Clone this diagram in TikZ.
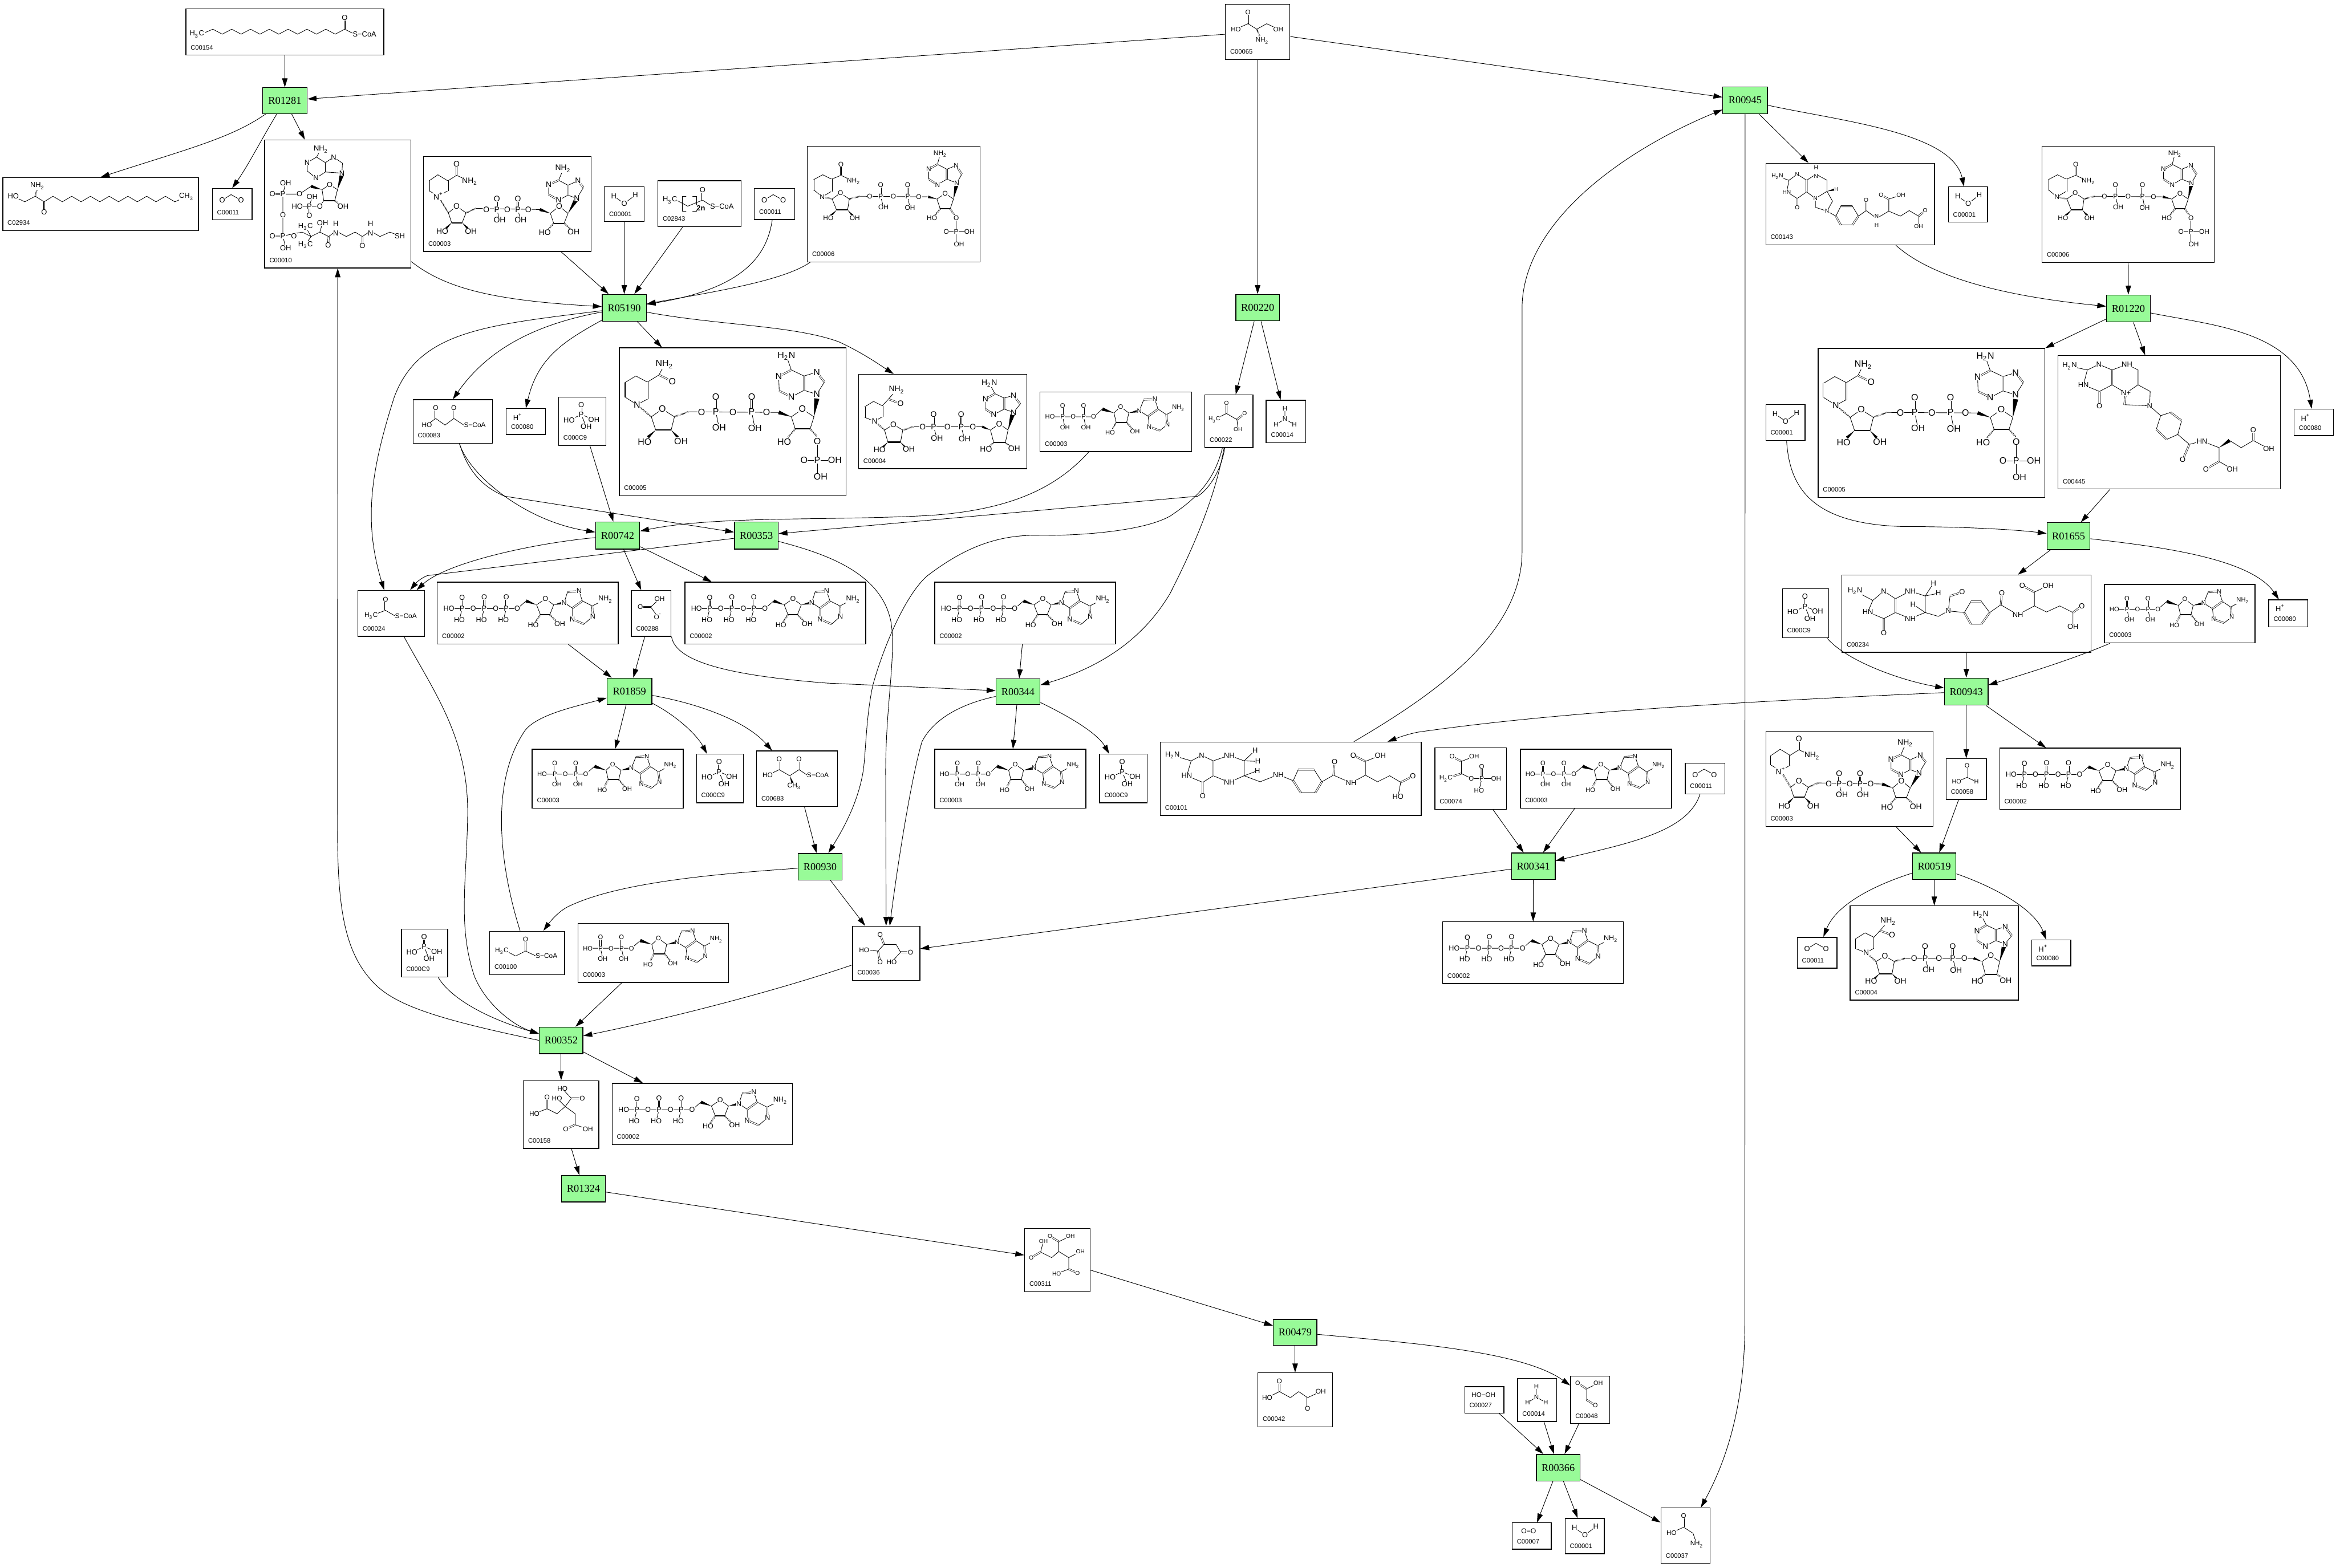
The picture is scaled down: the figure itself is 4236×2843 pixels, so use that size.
\documentclass[tikz,border=0pt]{standalone}
\usepackage{fontspec}
\setmainfont{Liberation Sans}
\newfontfamily\atomf{Liberation Sans}
\newfontfamily\serf{Liberation Serif}
\usetikzlibrary{arrows.meta,calc}
\definecolor{rxgreen}{HTML}{98FB98}
\newcounter{atc}
\def\msz{4}
\tikzset{
 cbox/.style={draw=black,fill=white,line width=.4pt,inner sep=0pt,rectangle},
 rbox/.style={draw=black,fill=rxgreen,line width=.4pt,inner sep=0pt,rectangle,font=\serf\fontsize{5.4}{6}\selectfont},
 lab/.style={inner sep=0pt,font=\atomf\fontsize{3.3}{4}\selectfont},
 atom/.style={fill=white,inner sep=.12pt,font=\atomf\fontsize{\msz}{\msz}\selectfont},
 bd/.style={line width=.25pt,line cap=round,line join=round},
 dbd/.style={line width=.2pt,double,double distance=.5pt},
 edg/.style={draw=black,line width=.27pt,-{Triangle[length=4.6pt,width=2.8pt]}},
}
\newcommand{\cmp}[6]{\node[cbox,minimum width={(#4-#2)*0.01cm},minimum height={(#5-#3)*0.01cm}] (#1) at ({(#2+#4)/2},{(#3+#5)/2}) {};
 \node[lab,anchor=west] (#1lab) at (#2+8,#5-14) {#6};}
\newcommand{\rxn}[6]{\node[rbox,minimum width={(#5-#3)*0.01cm},minimum height={(#6-#4)*0.01cm}] (#1) at ({(#3+#5)/2},{(#4+#6)/2}) {#2};}
\newcommand{\mol}[4]{\begin{scope}[shift={(#1,#2)}]\def\msz{#3}#4\end{scope}}
\newcommand{\atm}[3]{\stepcounter{atc}\node[atom] (at\theatc) at (#1,#2) {#3};}
\newcommand{\Bn}{\draw[bd]}
\newcommand{\Db}{\draw[dbd]}
\newcommand{\wdg}[4]{\fill (#1,#2) -- ({#3+(#4-#2)*0.14},{#4-(#3-#1)*0.14}) -- ({#3-(#4-#2)*0.14},{#4+(#3-#1)*0.14}) -- cycle;}
\newcommand{\hsh}[4]{\draw[line width=.75pt,dash pattern=on .22pt off .38pt] (#1,#2) -- (#3,#4);}
\newcommand{\sub}[1]{\textsubscript{#1}}
% ---------- molecules
\newcommand{\molATP}{
 \Bn (21,48)--(145,48)--(161,34);
 \Bn (45,48)--(40,68) (85,48)--(80,68) (125,48)--(120,68);
 \Db (45,48)--(45,28) (85,48)--(85,27) (125,48)--(125,27);
 \wdg{180}{41}{161}{34}
 \Bn (180,41)--(196,30)--(211,41)--(204,59)--(187,59)--cycle;
 \draw[line width=.6pt] (187,59)--(204,59);
 \hsh{187}{59}{178}{72}\hsh{204}{59}{216}{71}\wdg{211}{41}{230}{37}
 \Bn (230,37)--(236,18) (257,16)--(263,34) (245,47)--(230,37) (263,34)--(281,43) (282,62)--(266,76) (245,67)--(245,47) (281,43)--(305,31);
 \Db (236,18)--(257,16) (263,34)--(245,47) (281,43)--(282,62) (266,76)--(245,67);
 \atm{21}{48}{HO}\atm{45}{48}{P}\atm{45}{28}{O}\atm{40}{68}{HO}\atm{65}{48}{O}\atm{85}{48}{P}\atm{85}{27}{O}\atm{80}{68}{HO}
 \atm{106}{48}{O}\atm{125}{48}{P}\atm{125}{27}{O}\atm{120}{68}{HO}\atm{145}{48}{O}\atm{196}{30}{O}\atm{174}{78}{HO}\atm{222}{76}{OH}
 \atm{230}{37}{N}\atm{257}{16}{N}\atm{245}{67}{N}\atm{282}{62}{N}\atm{305}{31}{NH\sub{2}}}
\newcommand{\molADP}{
 \Bn (18,45)--(97,45)--(113,31);
 \Bn (41,45)--(45,64) (79,45)--(83,64);
 \Db (41,45)--(41,25) (79,45)--(79,25);
 \wdg{134}{38}{113}{31}
 \Bn (134,38)--(146,27)--(161,38)--(157,55)--(138,55)--cycle;
 \draw[line width=.6pt] (138,55)--(157,55);
 \hsh{138}{55}{131}{68}\hsh{157}{55}{167}{67}\wdg{161}{38}{180}{34}
 \Bn (180,34)--(188,14) (208,13)--(214,31) (196,44)--(180,34) (214,31)--(229,41) (231,59)--(217,70) (198,63)--(196,44) (229,41)--(251,29);
 \Db (188,14)--(208,13) (214,31)--(196,44) (229,41)--(231,59) (217,70)--(198,63);
 \atm{18}{45}{HO}\atm{41}{45}{P}\atm{41}{25}{O}\atm{45}{64}{OH}\atm{60}{45}{O}\atm{79}{45}{P}\atm{79}{25}{O}\atm{83}{64}{OH}\atm{97}{45}{O}
 \atm{146}{27}{O}\atm{127}{74}{HO}\atm{172}{72}{OH}\atm{180}{34}{N}\atm{208}{13}{N}\atm{198}{63}{N}\atm{231}{59}{N}\atm{251}{29}{NH\sub{2}}}
\newcommand{\molNAD}{
 \Db (60,14)--(60,34); \Bn (84,45)--(60,34)--(44,44);
 \Bn (44,44)--(26,33)--(10,44)--(10,62)--(27,72)--(44,62)--cycle;
 \Db (44,44)--(44,62) (10,44)--(10,62);
 \hsh{27}{72}{45}{102}
 \Bn (45,102)--(60,90)--(77,102)--(70,120)--(51,120)--cycle;
 \draw[line width=.6pt] (51,120)--(70,120);
 \wdg{51}{120}{41}{130}\wdg{70}{120}{80}{130}\hsh{77}{102}{95}{94}
 \Bn (95,94)--(211,96);
 \Bn (133,96)--(138,115) (171,96)--(176,115);
 \Db (133,96)--(133,77) (171,96)--(171,77);
 \wdg{230}{103}{211}{96}
 \Bn (230,103)--(246,90)--(262,103)--(255,121)--(236,121)--cycle;
 \draw[line width=.6pt] (236,121)--(255,121);
 \hsh{236}{121}{226}{132}\hsh{255}{121}{266}{131}\wdg{262}{103}{278}{76}
 \Bn (278,76)--(290,56) (280,44)--(262,52) (262,70)--(278,76) (262,52)--(245,43) (227,51)--(227,69) (245,79)--(262,70) (245,43)--(253,24);
 \Db (290,56)--(280,44) (262,52)--(262,70) (245,43)--(227,51) (227,69)--(245,79);
 \atm{60}{14}{O}\atm{84}{45}{NH\sub{2}}\atm{27}{72}{N\textsuperscript{+}}\atm{60}{90}{O}\atm{34}{136}{HO}\atm{86}{136}{OH}
 \atm{114}{96}{O}\atm{133}{96}{P}\atm{133}{77}{O}\atm{138}{115}{OH}\atm{152}{96}{O}\atm{171}{96}{P}\atm{171}{77}{O}\atm{176}{115}{OH}\atm{190}{96}{O}
 \atm{246}{90}{O}\atm{220}{138}{HO}\atm{272}{137}{OH}\atm{278}{76}{N}\atm{280}{44}{N}\atm{245}{79}{N}\atm{227}{51}{N}\atm{253}{22}{NH\sub{2}}}
\newcommand{\molNADP}{
 \Db (61,33)--(61,53); \Bn (84,64)--(61,53)--(44,60);
 \Bn (44,60)--(28,52)--(11,61)--(11,79)--(27,92)--(44,82)--cycle;
 \Db (44,60)--(44,82) (11,61)--(11,79);
 \hsh{27}{92}{45}{96}
 \Bn (45,96)--(60,85)--(76,96)--(73,116)--(53,116)--cycle;
 \draw[line width=.6pt] (53,116)--(73,116);
 \wdg{53}{116}{43}{126}\wdg{73}{116}{82}{126}\hsh{76}{96}{95}{91}
 \Bn (95,91)--(219,92);
 \Bn (133,91)--(138,111) (182,91)--(186,112);
 \Db (133,91)--(133,70) (182,91)--(182,70);
 \wdg{235}{96}{219}{92}
 \Bn (235,96)--(250,86)--(265,96)--(259,114)--(241,114)--cycle;
 \draw[line width=.6pt] (241,114)--(259,114);
 \hsh{241}{114}{231}{126}\hsh{259}{114}{270}{130}\wdg{265}{96}{271}{67}
 \Bn (271,67)--(280,51) (270,35)--(253,42) (253,60)--(271,67) (253,42)--(236,33) (220,42)--(220,60) (236,70)--(253,60) (236,33)--(241,14);
 \Db (280,51)--(270,35) (253,42)--(253,60) (236,33)--(220,42) (220,60)--(236,70);
 \Bn (270,130)--(270,178) (252,155)--(294,155);
 \atm{61}{33}{O}\atm{84}{64}{NH\sub{2}}\atm{27}{92}{N}\atm{60}{85}{O}\atm{38}{130}{HO}\atm{86}{130}{OH}
 \atm{113}{91}{O}\atm{133}{91}{P}\atm{133}{70}{O}\atm{138}{111}{OH}\atm{156}{91}{O}\atm{182}{91}{P}\atm{182}{70}{O}\atm{186}{112}{OH}\atm{202}{92}{O}
 \atm{250}{86}{O}\atm{226}{130}{HO}\atm{270}{130}{O}\atm{270}{155}{P}\atm{252}{155}{O}\atm{294}{155}{OH}\atm{275}{178}{OH}
 \atm{271}{67}{N}\atm{270}{35}{N}\atm{236}{70}{N}\atm{220}{42}{N}\atm{241}{14}{NH\sub{2}}}
\newcommand{\molNADPH}{
 \Bn (82,30)--(72,49)--(51,62);\Db (72,49)--(96,61);
 \Bn (51,62)--(30,51)--(10,63)--(10,89)--(32,103)--(51,93)--cycle;
 \Db (51,62)--(51,93) (10,63)--(10,89);
 \hsh{32}{103}{58}{125}
 \Bn (58,125)--(78,111)--(100,125)--(94,149)--(66,149)--cycle;
 \draw[line width=.7pt] (66,149)--(94,149);
 \wdg{66}{149}{52}{162}\wdg{94}{149}{106}{162}\hsh{100}{125}{125}{116}
 \Bn (125,116)--(289,117);
 \Bn (175,116)--(181,145) (240,116)--(246,146);
 \Db (175,116)--(175,89) (240,116)--(240,89);
 \wdg{312}{125}{289}{117}
 \Bn (312,125)--(332,111)--(353,125)--(346,147)--(319,147)--cycle;
 \draw[line width=.7pt] (319,147)--(346,147);
 \hsh{319}{147}{306}{162}\hsh{346}{147}{358}{160}\wdg{353}{125}{358}{92}
 \Bn (358,84)--(372,62) (358,44)--(335,51) (335,77)--(358,84) (335,51)--(312,40) (289,52)--(290,78) (312,89)--(335,77) (312,40)--(303,15);
 \Db (372,62)--(358,44) (335,51)--(335,77) (312,40)--(289,52) (290,78)--(312,89);
 \Bn (359,169)--(359,234) (335,204)--(391,204);
 \atm{82}{30}{NH\sub{2}}\atm{96}{61}{O}\atm{32}{103}{N}\atm{78}{111}{O}\atm{46}{171}{HO}\atm{112}{169}{OH}
 \atm{149}{117}{O}\atm{175}{116}{P}\atm{175}{89}{O}\atm{181}{145}{OH}\atm{206}{117}{O}\atm{240}{116}{P}\atm{240}{89}{O}\atm{246}{146}{OH}\atm{267}{117}{O}
 \atm{332}{111}{O}\atm{299}{171}{HO}\atm{359}{169}{O}\atm{359}{204}{P}\atm{335}{204}{O}\atm{391}{204}{OH}\atm{365}{234}{OH}
 \atm{358}{84}{N}\atm{358}{44}{N}\atm{312}{89}{N}\atm{289}{52}{N}\atm{303}{15}{H\sub{2}N}}
\newcommand{\molNADH}{
 \Bn (69,28)--(54,45)--(43,57);\Db (54,45)--(76,53);
 \Bn (43,57)--(27,49)--(11,59)--(11,78)--(29,85)--(43,77)--cycle;
 \Db (43,57)--(43,77) (11,59)--(11,78);
 \hsh{29}{85}{47}{101}
 \Bn (47,101)--(63,91)--(80,101)--(76,123)--(53,123)--cycle;
 \draw[line width=.6pt] (53,123)--(76,123);
 \wdg{53}{123}{43}{133}\wdg{76}{123}{85}{133}\hsh{80}{101}{100}{95}
 \Bn (100,95)--(224,95);
 \Bn (136,95)--(142,116) (186,95)--(192,117);
 \Db (136,95)--(136,73) (186,95)--(186,73);
 \wdg{239}{101}{224}{95}
 \Bn (239,101)--(255,90)--(271,101)--(266,124)--(245,124)--cycle;
 \draw[line width=.6pt] (245,124)--(266,124);
 \hsh{245}{124}{235}{132}\hsh{266}{124}{277}{132}\wdg{271}{101}{279}{73}
 \Bn (281,69)--(293,54) (281,38)--(264,43) (264,63)--(281,69) (264,43)--(247,35) (230,45)--(230,63) (245,73)--(264,63) (247,35)--(237,16);
 \Db (293,54)--(281,38) (264,43)--(264,63) (247,35)--(230,45) (230,63)--(245,73);
 \atm{69}{28}{NH\sub{2}}\atm{76}{53}{O}\atm{29}{85}{N}\atm{63}{91}{O}\atm{38}{137}{HO}\atm{91}{136}{OH}
 \atm{116}{95}{O}\atm{136}{95}{P}\atm{136}{73}{O}\atm{142}{116}{OH}\atm{161}{95}{O}\atm{186}{95}{P}\atm{186}{73}{O}\atm{192}{117}{OH}\atm{207}{95}{O}
 \atm{255}{90}{O}\atm{231}{136}{HO}\atm{282}{135}{OH}\atm{281}{69}{N}\atm{281}{38}{N}\atm{245}{73}{N}\atm{230}{45}{N}\atm{237}{16}{H\sub{2}N}}
\newcommand{\molW}{\Bn (17,17)--(36,30)--(56,15);\atm{17}{17}{H}\atm{36}{30}{O}\atm{56}{15}{H}}
\newcommand{\molCO}{\Bn (18,21)--(34,11)--(52,21);\atm{18}{21}{O}\atm{52}{21}{O}}
\newcommand{\molPi}{\Bn (19,42)--(41,32)--(64,41) (41,32)--(50,54);\Db (41,14)--(41,32);\atm{41}{14}{O}\atm{41}{32}{P}\atm{19}{42}{HO}\atm{64}{41}{OH}\atm{50}{54}{OH}}
\newcommand{\molH}{\atm{21}{15}{H\textsuperscript{+}}}
\newcommand{\molNHHH}{\Bn (34,15)--(34,34)--(18,44) (34,34)--(51,44);\atm{34}{15}{H}\atm{34}{34}{N}\atm{18}{44}{H}\atm{51}{44}{H}}
% ---------- document body
\begin{document}
\begin{tikzpicture}[x=0.01cm,y=-0.01cm]
\fill[white] (0,0) rectangle (4236,2843);
\useasboundingbox (0,0) rectangle (4236,2843);
% reactions
\rxn{R01281}{R01281}{476}{159}{557}{206}
\rxn{R05190}{R05190}{1092}{534}{1172}{583}
\rxn{R00742}{R00742}{1080}{947}{1160}{996}
\rxn{R00353}{R00353}{1332}{947}{1411}{996}
\rxn{R01859}{R01859}{1101}{1230}{1182}{1278}
\rxn{R00344}{R00344}{1806}{1231}{1886}{1278}
\rxn{R00930}{R00930}{1447}{1548}{1527}{1596}
\rxn{R00352}{R00352}{978}{1863}{1057}{1911}
\rxn{R01324}{R01324}{1018}{2132}{1098}{2180}
\rxn{R00479}{R00479}{2309}{2393}{2388}{2440}
\rxn{R00366}{R00366}{2786}{2638}{2865}{2686}
\rxn{R00341}{R00341}{2741}{1547}{2820}{1595}
\rxn{R00220}{R00220}{2241}{534}{2320}{582}
\rxn{R00945}{R00945}{3124}{158}{3205}{206}
\rxn{R01220}{R01220}{3820}{535}{3899}{584}
\rxn{R01655}{R01655}{3712}{948}{3790}{997}
\rxn{R00943}{R00943}{3526}{1230}{3605}{1279}
\rxn{R00519}{R00519}{3468}{1547}{3547}{1595}
% compounds
\cmp{C00154}{337}{16}{696}{100}{C00154}
\cmp{C02934}{5}{322}{360}{418}{C02934}
\cmp{C00011a}{385}{342}{457}{399}{C00011}
\cmp{C00010}{480}{254}{745}{486}{C00010}
\cmp{C00003a}{768}{284}{1072}{456}{C00003}
\cmp{C00001a}{1096}{339}{1168}{402}{C00001}
\cmp{C02843}{1193}{328}{1344}{411}{C02843}
\cmp{C00011b}{1368}{342}{1441}{398}{C00011}
\cmp{C00006a}{1464}{265}{1777}{475}{C00006}
\cmp{C00005a}{1123}{631}{1534}{899}{C00005}
\cmp{C00004a}{1557}{679}{1862}{850}{C00004}
\cmp{C00009a}{1013}{720}{1099}{808}{C000C9}
\cmp{ADPa}{1886}{711}{2161}{819}{C00003}
\cmp{C00083}{749}{725}{893}{804}{C00083}
\cmp{C00080a}{918}{741}{989}{788}{C00080}
\cmp{C00024}{649}{1071}{770}{1154}{C00024}
\cmp{ATPa}{793}{1056}{1121}{1168}{C00002}
\cmp{C00288}{1145}{1071}{1217}{1154}{C00288}
\cmp{ATPb}{1242}{1056}{1570}{1168}{C00002}
\cmp{ATPc}{1695}{1056}{2023}{1168}{C00002}
\cmp{ADPb}{965}{1359}{1239}{1466}{C00003}
\cmp{C00009b}{1263}{1368}{1348}{1456}{C000C9}
\cmp{C00683}{1372}{1362}{1519}{1463}{C00683}
\cmp{ADPc}{1695}{1359}{1969}{1466}{C00003}
\cmp{C00009c}{1994}{1368}{2080}{1456}{C000C9}
\cmp{C00100}{888}{1689}{1024}{1768}{C00100}
\cmp{C00009d}{728}{1685}{812}{1772}{C000C9}
\cmp{ADPd}{1048}{1675}{1321}{1782}{C00003}
\cmp{C00036}{1546}{1680}{1668}{1778}{C00036}
\cmp{C00158}{949}{1960}{1086}{2083}{C00158}
\cmp{ATPd}{1110}{1965}{1437}{2076}{C00002}
\cmp{C00311}{1858}{2228}{1977}{2343}{C00311}
\cmp{C00042}{2281}{2490}{2416}{2588}{C00042}
\cmp{C00027}{2656}{2515}{2727}{2563}{C00027}
\cmp{C00014b}{2752}{2500}{2823}{2578}{C00014}
\cmp{C00048}{2848}{2496}{2919}{2582}{C00048}
\cmp{C00007}{2742}{2762}{2813}{2810}{C00007}
\cmp{C00001d}{2838}{2754}{2909}{2818}{C00001}
\cmp{C00037}{3012}{2735}{3101}{2836}{C00037}
\cmp{C00065}{2222}{8}{2339}{108}{C00065}
\cmp{C00022}{2185}{716}{2272}{812}{C00022}
\cmp{C00014a}{2296}{726}{2368}{803}{C00014}
\cmp{C00143}{3202}{296}{3508}{444}{C00143}
\cmp{C00001b}{3533}{339}{3604}{403}{C00001}
\cmp{C00006b}{3703}{265}{4015}{476}{C00006}
\cmp{C00005b}{3297}{632}{3708}{902}{C00005}
\cmp{C00445}{3732}{645}{4135}{887}{C00445}
\cmp{C00001c}{3202}{734}{3273}{799}{C00001}
\cmp{C00080b}{4160}{742}{4231}{790}{C00080}
\cmp{C00234}{3340}{1043}{3792}{1183}{C00234}
\cmp{C00009e}{3232}{1068}{3316}{1157}{C000C9}
\cmp{ADPe}{3816}{1060}{4089}{1166}{C00003}
\cmp{C00080c}{4114}{1088}{4185}{1137}{C00080}
\cmp{C00003c}{3202}{1326}{3505}{1499}{C00003}
\cmp{C00058}{3529}{1376}{3602}{1450}{C00058}
\cmp{ATPe}{3626}{1357}{3954}{1468}{C00002}
\cmp{C00011c}{3259}{1700}{3331}{1756}{C00011}
\cmp{C00004b}{3355}{1643}{3660}{1814}{C00004}
\cmp{C00080d}{3684}{1705}{3755}{1752}{C00080}
\cmp{C00101}{2104}{1346}{2577}{1479}{C00101}
\cmp{C00074}{2602}{1356}{2732}{1468}{C00074}
\cmp{ADPf}{2757}{1359}{3031}{1466}{C00003}
\cmp{C00011d}{3056}{1384}{3128}{1440}{C00011}
\cmp{ATPf}{2616}{1672}{2944}{1784}{C00002}
% repeated molecules
\mol{793}{1056}{3.7}{\molATP}\mol{1242}{1056}{3.7}{\molATP}\mol{1695}{1056}{3.7}{\molATP}
\mol{1110}{1965}{3.7}{\molATP}\mol{3626}{1357}{3.7}{\molATP}\mol{2616}{1672}{3.7}{\molATP}
\mol{1886}{711}{3.3}{\molADP}\mol{965}{1359}{3.3}{\molADP}\mol{1695}{1359}{3.3}{\molADP}
\mol{1048}{1675}{3.3}{\molADP}\mol{3816}{1060}{3.3}{\molADP}\mol{2757}{1359}{3.3}{\molADP}
\mol{768}{284}{4.1}{\molNAD}\mol{3202}{1326}{4.1}{\molNAD}
\mol{1464}{265}{3.5}{\molNADP}\mol{3703}{265}{3.5}{\molNADP}
\mol{1123}{631}{4.7}{\molNADPH}\mol{3297}{632}{4.7}{\molNADPH}
\mol{1557}{679}{4.1}{\molNADH}\mol{3355}{1643}{4.1}{\molNADH}
\mol{1096}{339}{3.8}{\molW}\mol{3533}{339}{3.8}{\molW}\mol{3202}{734}{3.8}{\molW}
\mol{2838}{2754}{3.8}{\molW}
\mol{385}{342}{3.8}{\molCO}\mol{1368}{342}{3.8}{\molCO}\mol{3259}{1700}{3.8}{\molCO}\mol{3056}{1384}{3.8}{\molCO}
\mol{1013}{720}{3.8}{\molPi}\mol{1263}{1368}{3.8}{\molPi}\mol{1994}{1368}{3.8}{\molPi}\mol{728}{1685}{3.8}{\molPi}\mol{3232}{1068}{3.8}{\molPi}
\mol{918}{741}{3.8}{\molH}\mol{4160}{742}{3.8}{\molH}\mol{4114}{1088}{3.8}{\molH}\mol{3684}{1705}{3.8}{\molH}
\mol{2296}{726}{3.4}{\molNHHH}\mol{2752}{2500}{3.4}{\molNHHH}
% single molecules
\mol{337}{16}{3.8}{
 \draw[bd] (35,43)--(49,37); \draw[bd] plot[variable=\k,samples at={0,...,14}] ({49+\k*17.07},{41.5-4.5*cos(180*\k)});
 \draw[bd] (288,37)--(306,46); \Db (288,37)--(288,16);
 \atm{20}{46}{H\sub{3}C}\atm{288}{16}{O}\atm{324}{46}{S−CoA}}
\mol{5}{322}{3.8}{
 \Bn (19,34)--(40,44)--(59,34)--(75,44)--(91,34);\Db (75,44)--(75,63);\hsh{59}{34}{62}{22}
 \draw[bd] plot[variable=\k,samples at={0,...,13}] ({91+\k*17},{39-5*cos(180*\k)});
 \Bn (312,44)--(333,35);
 \atm{19}{34}{HO}\atm{63}{15}{NH\sub{2}}\atm{75}{63}{O}\atm{333}{35}{CH\sub{3}}}
\mol{480}{254}{3.8}{
 \Bn (102,17)--(94,31)--(77,41)--(77,56)--(93,69)--(110,58)--(110,41)--(94,31) (110,41)--(125,31)--(141,42)--(140,60)--(110,58);
 \wdg{132}{90}{140}{62}
 \Bn (132,90)--(118,81)--(104,90)--(107,110)--(127,110)--cycle;
 \draw[line width=.6pt] (107,110)--(127,110);
 \wdg{104}{90}{84}{84}\hsh{127}{110}{138}{118}
 \Bn (84,84)--(63,98)--(33,98)--(38,78) (33,98)--(33,174)--(38,196) (33,174)--(68,167)--(84,175)--(100,167)--(116,175)--(129,165)--(148,175)--(164,167)--(177,175)--(192,165)--(209,175)--(227,167)--(245,174);
 \Bn (84,175)--(74,157) (84,175)--(74,190) (100,167)--(105,150) (107,110)--(100,120)--(59,120) (81,120)--(86,103);
 \Db (33,98)--(14,98) (33,174)--(14,174) (116,175)--(115,191) (177,175)--(177,192) (81,120)--(81,137);
 \atm{102}{17}{NH\sub{2}}\atm{77}{41}{N}\atm{93}{69}{N}\atm{125}{31}{N}\atm{140}{60}{N}\atm{118}{81}{O}\atm{142}{120}{OH}
 \atm{63}{98}{O}\atm{33}{98}{P}\atm{14}{98}{O}\atm{38}{78}{OH}\atm{33}{136}{O}\atm{33}{174}{P}\atm{14}{174}{O}\atm{38}{196}{OH}\atm{53}{174}{O}
 \atm{74}{157}{H\sub{3}C}\atm{74}{190}{H\sub{3}C}\atm{105}{150}{OH}\atm{115}{191}{O}\atm{129}{160}{\shortstack{H\\[-.5pt]N}}\atm{177}{192}{O}\atm{192}{160}{\shortstack{H\\[-.5pt]N}}\atm{245}{174}{SH}
 \atm{100}{120}{O}\atm{81}{120}{P}\atm{59}{120}{HO}\atm{86}{103}{OH}\atm{81}{137}{O}}
\mol{1193}{328}{3.8}{
 \Bn (30,33)--(54,46)--(81,35)--(98,46);\Db (81,35)--(81,16);
 \Bn (51,28)--(44,28)--(44,55)--(51,55) (63,28)--(70,28)--(70,55)--(63,55);
 \atm{22}{35}{H\sub{3}C}\atm{81}{16}{O}\atm{116}{46}{S−CoA}\node[atom,font=\atomf\bfseries\fontsize{3.8}{4}\selectfont] (twon) at (78,49) {2n};}
\mol{749}{725}{3.5}{
 \Db (41,15)--(41,34) (74,34)--(74,15);\Bn (25,46)--(41,34)--(58,46)--(74,34)--(92,46);
 \atm{41}{15}{O}\atm{25}{46}{HO}\atm{74}{15}{O}\atm{112}{46}{S−CoA}}
\mol{649}{1071}{3.5}{
 \Db (50,16)--(50,36);\Bn (24,46)--(50,36)--(67,46);
 \atm{50}{16}{O}\atm{24}{46}{H\sub{3}C}\atm{87}{46}{S−CoA}}
\mol{1145}{1071}{3.5}{
 \Db (16,30)--(35,30);\Bn (51,15)--(35,30)--(48,48);
 \atm{51}{15}{OH}\atm{16}{30}{O}\atm{48}{48}{O\textsuperscript{-}}}
\mol{1372}{1362}{3.5}{
 \Db (41,15)--(41,34) (77,34)--(77,15);\Bn (20,44)--(41,34)--(60,45)--(77,34)--(92,44);\wdg{60}{45}{65}{58}
 \atm{41}{15}{O}\atm{20}{44}{HO}\atm{77}{15}{O}\atm{111}{44}{S−CoA}\atm{68}{64}{CH\sub{3}}}
\mol{888}{1689}{3.5}{
 \Db (65,15)--(65,36);\Bn (30,36)--(47,45)--(65,36)--(84,45);
 \atm{65}{15}{O}\atm{22}{36}{H\sub{3}C}\atm{103}{45}{S−CoA}}
\mol{1546}{1680}{3.5}{
 \Db (50,15)--(57,33) (46,45)--(50,65) (87,47)--(105,47);\Bn (21,43)--(46,45)--(57,33)--(79,33)--(87,47)--(71,65);
 \atm{50}{15}{O}\atm{21}{43}{HO}\atm{50}{65}{O}\atm{105}{47}{O}\atm{71}{65}{HO}}
\mol{949}{1960}{3.5}{
 \Bn (71,15)--(87,32)--(76,47)--(61,60)--(43,51)--(20,60) (76,47)--(61,32) (76,47)--(94,60)--(94,80)--(117,88);
 \Db (87,32)--(107,32) (43,51)--(43,30) (94,80)--(77,88);
 \atm{71}{15}{HO}\atm{107}{32}{O}\atm{61}{32}{HO}\atm{43}{30}{O}\atm{20}{60}{HO}\atm{77}{88}{O}\atm{117}{88}{OH}}
\mol{1858}{2228}{3}{
 \Db (46,14)--(62,24) (29,43)--(12,53) (80,74)--(96,81);
 \Bn (83,14)--(62,24)--(62,42)--(49,53)--(29,43)--(34,23) (62,42)--(80,53)--(101,42) (80,53)--(80,74)--(58,82);
 \atm{46}{14}{O}\atm{83}{14}{OH}\atm{34}{23}{OH}\atm{12}{53}{O}\atm{101}{42}{OH}\atm{96}{81}{O}\atm{58}{82}{HO}}
\mol{2281}{2490}{3.5}{
 \Db (39,15)--(39,34) (90,45)--(90,65);\Bn (17,45)--(39,34)--(59,45)--(74,34)--(90,45)--(114,34);
 \atm{39}{15}{O}\atm{17}{45}{HO}\atm{90}{65}{O}\atm{114}{34}{OH}}
\mol{2656}{2515}{3.4}{\atm{34}{15}{HO−OH}}
\mol{2848}{2496}{3.2}{
 \Db (13,13)--(29,23) (29,43)--(45,53);\Bn (50,13)--(29,23)--(29,43);
 \atm{13}{13}{O}\atm{50}{13}{OH}\atm{45}{53}{O}}
\mol{2742}{2762}{3.6}{\atm{30}{15}{O=O}}
\mol{3012}{2735}{3.4}{
 \Db (41,14)--(41,35);\Bn (19,45)--(41,35)--(58,46)--(65,66);
 \atm{41}{14}{O}\atm{19}{45}{HO}\atm{65}{66}{NH\sub{2}}}
\mol{2222}{8}{3.4}{
 \Db (41,14)--(41,35);\Bn (19,45)--(41,35)--(57,45)--(75,35)--(96,45);\hsh{57}{45}{62}{58}
 \atm{41}{14}{O}\atm{19}{45}{HO}\atm{96}{45}{OH}\atm{67}{66}{NH\sub{2}}}
\mol{2185}{716}{3}{
 \Db (39,15)--(39,34) (58,45)--(72,34);\Bn (17,45)--(39,34)--(58,45)--(60,63);
 \atm{39}{15}{O}\atm{17}{45}{H\sub{3}C}\atm{72}{34}{O}\atm{60}{63}{OH}}
\mol{3529}{1376}{3.2}{
 \Db (38,13)--(38,34);\Bn (19,42)--(38,34)--(55,42);
 \atm{38}{13}{O}\atm{19}{42}{HO}\atm{55}{42}{H}}
\mol{2602}{1356}{3.4}{
 \Db (31,16)--(48,25) (48,47)--(20,56) (85,56)--(85,34);\Bn (71,16)--(48,25)--(48,47)--(66,56)--(111,56) (85,56)--(80,78);
 \atm{31}{16}{O}\atm{71}{16}{OH}\atm{20}{56}{H\sub{2}C}\atm{66}{56}{O}\atm{85}{56}{P}\atm{85}{34}{O}\atm{111}{56}{OH}\atm{80}{78}{HO}}
\mol{2104}{1346}{3.8}{
 \Bn (22,24)--(56,34)--(75,24)--(96,34)--(125,24)--(152,34)--(152,61)--(125,73)--(96,61)--(77,73)--(48,61)--(56,34);
 \Bn (152,34)--(172,15) (152,34)--(177,35) (152,61)--(176,52) (152,61)--(181,72)--(214,59)--(241,70);
 \Db (96,34)--(96,61) (77,73)--(77,98) (250,50)--(279,50) (293,72)--(281,92) (255,92)--(241,70);
 \Bn (241,70)--(250,50) (279,50)--(293,72) (281,92)--(255,92) (293,72)--(314,60)--(346,74)--(372,60)--(372,35)--(399,24) (372,60)--(394,72)--(416,61)--(436,73)--(431,99);
 \Db (314,60)--(316,36) (372,35)--(350,24) (436,73)--(458,62);
 \atm{22}{24}{H\sub{2}N}\atm{75}{24}{N}\atm{125}{24}{NH}\atm{172}{15}{H}\atm{177}{35}{H}\atm{176}{52}{H}\atm{125}{73}{NH}\atm{77}{98}{O}\atm{48}{61}{HN}\atm{214}{59}{NH}\atm{316}{36}{O}\atm{346}{74}{NH}\atm{350}{24}{O}\atm{399}{24}{OH}\atm{458}{62}{O}\atm{431}{99}{HO}}
\mol{3340}{1043}{3.8}{
 \Bn (24,29)--(56,46)--(76,29)--(97,43)--(124,29)--(151,38)--(151,68)--(124,79)--(97,68)--(76,79)--(47,67)--(56,46);
 \Bn (151,38)--(166,15) (151,38)--(175,33) (151,68)--(129,53) (151,68)--(175,75)--(193,65)--(222,68) (193,65)--(196,38);
 \Db (97,43)--(97,68) (76,79)--(76,105) (196,38)--(218,31) (234,48)--(253,48) (268,68)--(253,89) (234,89)--(222,68);
 \Bn (222,68)--(234,48) (253,48)--(268,68) (253,89)--(234,89) (268,68)--(288,54)--(319,72)--(349,56)--(349,31)--(374,19) (349,56)--(371,67)--(395,56)--(419,68)--(419,94);
 \Db (288,54)--(290,33) (349,31)--(327,19) (419,68)--(435,56);
 \atm{24}{29}{H\sub{2}N}\atm{76}{29}{N}\atm{124}{29}{NH}\atm{166}{15}{H}\atm{175}{33}{H}\atm{129}{53}{H}\atm{124}{79}{NH}\atm{76}{105}{O}\atm{47}{67}{HN}\atm{193}{65}{N}\atm{218}{31}{O}\atm{290}{33}{O}\atm{319}{72}{NH}\atm{327}{19}{O}\atm{374}{19}{OH}\atm{435}{56}{O}\atm{419}{94}{OH}}
\mol{3202}{296}{3}{
 \Bn (21,24)--(42,31)--(57,20)--(74,31)--(91,20)--(111,31)--(111,51)--(90,64)--(74,52)--(57,64)--(38,52)--(42,31);
 \wdg{111}{51}{128}{47}
 \Bn (111,51)--(121,69)--(111,87)--(90,80)--(90,64) (111,87)--(127,96);
 \Db (74,31)--(74,52) (57,64)--(57,80) (136,78)--(157,78) (168,96)--(157,112) (136,112)--(127,96);
 \Bn (127,96)--(136,78) (157,78)--(168,96) (157,112)--(136,112) (168,96)--(182,86)--(201,100)--(223,87)--(223,65)--(245,58) (223,87)--(244,96)--(260,86)--(277,96)--(277,115);
 \Db (182,86)--(182,67) (223,65)--(209,58) (277,96)--(289,86);
 \atm{21}{24}{H\sub{2}N}\atm{57}{20}{N}\atm{91}{16}{\shortstack{H\\[-.5pt]N}}\atm{128}{47}{H}\atm{90}{64}{N}\atm{57}{80}{O}\atm{38}{52}{HN}\atm{111}{87}{N}\atm{182}{67}{O}\atm{201}{104}{\shortstack{N\\[-.5pt]H}}\atm{209}{58}{O}\atm{245}{58}{OH}\atm{289}{86}{O}\atm{277}{115}{OH}}
\mol{3732}{645}{3.8}{
 \Bn (21,19)--(53,26)--(74,16)--(98,26)--(125,16)--(145,26)--(145,53)--(167,65)--(166,91)--(120,89)--(123,68)--(145,53);
 \Bn (98,53)--(123,68) (98,53)--(75,65)--(46,53)--(53,26);
 \Db (98,26)--(98,53) (75,65)--(75,91) (120,89)--(123,68);
 \Bn (166,91)--(186,109)--(204,103)--(224,118)--(217,143)--(197,152)--(178,134)--(186,109) (217,143)--(238,161)--(261,155)--(292,167)--(292,192)--(316,206) (311,154)--(332,167)--(354,154)--(382,169);
 \wdg{292}{167}{311}{154}
 \Db (238,161)--(226,189) (354,154)--(354,135) (292,192)--(268,206) (204,103)--(224,118) (197,152)--(178,134);
 \atm{21}{19}{H\sub{2}N}\atm{74}{16}{N}\atm{125}{16}{NH}\atm{46}{53}{HN}\atm{75}{91}{O}\atm{123}{68}{N+}\atm{166}{91}{N}\atm{226}{189}{O}\atm{261}{155}{HN}\atm{354}{135}{O}\atm{382}{169}{OH}\atm{268}{206}{O}\atm{316}{206}{OH}}
% straight connectors
\draw[edg] (C00154) -- (R01281);
\draw[edg] (C00065) -- (R01281);
\draw[edg] (C00065) -- (R00945);
\draw[edg] (C00065) -- (R00220);
\draw[edg] (R01281) -- (C00010);
\draw[edg] (C00003a) -- (R05190);
\draw[edg] (C00001a) -- (R05190);
\draw[edg] (C02843) -- (R05190);
\draw[edg] (R05190) -- (C00005a);
\draw[edg] (C00009a) -- (R00742);
\draw[edg] (R00742) -- (C00288);
\draw[edg] (R00742) -- (ATPb);
\draw[edg] (ATPa) -- (R01859);
\draw[edg] (C00288) -- (R01859);
\draw[edg] (R01859) -- (ADPb);
\draw[edg] (ATPc) -- (R00344);
\draw[edg] (R00344) -- (ADPc);
\draw[edg] (C00683) -- (R00930);
\draw[edg] (R00930) -- (C00036);
\draw[edg] (ADPd) -- (R00352);
\draw[edg] (R00352) -- (C00158);
\draw[edg] (R00352) -- (ATPd);
\draw[edg] (C00158) -- (R01324);
\draw[edg] (R01324) -- (C00311);
\draw[edg] (C00311) -- (R00479);
\draw[edg] (R00479) -- (C00042);
\draw[edg] (C00027) -- (R00366);
\draw[edg] (C00014b) -- (R00366);
\draw[edg] (C00048) -- (R00366);
\draw[edg] (R00366) -- (C00007);
\draw[edg] (R00366) -- (C00001d);
\draw[edg] (R00366) -- (C00037);
\draw[edg] (R00341) -- (C00036);
\draw[edg] (R00341) -- (ATPf);
\draw[edg] (C00074) -- (R00341);
\draw[edg] (ADPf) -- (R00341);
\draw[edg] (R00220) -- (C00022);
\draw[edg] (R00220) -- (C00014a);
\draw[edg] (R00945) -- (C00143);
\draw[edg] (C00006b) -- (R01220);
\draw[edg] (R01220) -- (C00005b.north east);
\draw[edg] (R01220) -- (C00445);
\draw[edg] (C00445) -- (R01655);
\draw[edg] (R01655) -- (C00234);
\draw[edg] (C00234) -- (R00943);
\draw[edg] (R00943) -- (C00058);
\draw[edg] (R00943) -- (ATPe);
\draw[edg] (C00003c) -- (R00519);
\draw[edg] (C00058) -- (R00519);
\draw[edg] (R00519) -- (C00004b);
% curved connectors
\draw[edg] (R01281) .. controls (420,250) and (344,269) .. (C02934.north);
\draw[edg] (R01281) .. controls (470,260) and (450,300) .. (C00011a.north);
\draw[edg] (C00010) .. controls (810,525) and (900,545) .. (R05190);
\draw[edg] (R00352.west) .. controls (800,1850) and (720,1825) .. (680,1785) .. controls (625,1730) and (612,1650) .. (612,1500) -- (C00010);
\draw[edg] (R05190) .. controls (880,590) and (760,600) .. (715,720) .. controls (670,860) and (660,950) .. (C00024);
\draw[edg] (R05190) .. controls (960,590) and (880,640) .. (C00083.north);
\draw[edg] (R05190) .. controls (1020,620) and (975,650) .. (C00080a.north);
\draw[edg] (R05190) .. controls (1300,590) and (1440,590) .. (1521,620) .. controls (1565,640) and (1600,665) .. ($(C00004a.north west)!0.21!(C00004a.north east)$);
\draw[edg] (C00011b) .. controls (1390,470) and (1340,525) .. (R05190);
\draw[edg] (C00006a) .. controls (1420,510) and (1290,530) .. (R05190);
\draw[edg] (C00083) .. controls (850,860) and (950,945) .. (R00742);
\draw[edg] (C00083) .. controls (850,860) and (880,885) .. (915,900) -- (R00353);
\draw[edg] (ADPa) .. controls (1920,880) and (1840,925) .. (1684,935) .. controls (1500,945) and (1300,935) .. (R00742);
\draw[edg] (C00022) .. controls (2215,850) and (2195,885) .. (2172,900) -- (R00353);
\draw[edg] (C00022) .. controls (2200,880) and (2160,910) .. (2122,936) .. controls (2070,965) and (1950,972) .. (1880,971) .. controls (1800,970) and (1740,1000) .. (1682,1044) .. controls (1640,1080) and (1600,1180) .. (1583,1242) .. controls (1570,1300) and (1570,1370) .. (1565,1400) .. controls (1555,1460) and (1525,1510) .. (R00930);
\draw[edg] (C00022) .. controls (2200,920) and (2150,1020) .. (2122,1076) .. controls (2090,1130) and (2030,1200) .. (R00344);
\draw[edg] (C00288.south east) .. controls (1225,1200) and (1320,1225) .. (1500,1239) -- (R00344);
\draw[edg] (R00742) .. controls (970,985) and (810,1020) .. (C00024);
\draw[edg] (R00353) -- (775,1044) .. controls (760,1050) and (752,1060) .. (C00024);
\draw[edg] (R00353) .. controls (1500,1005) and (1600,1040) .. (1616,1130) .. controls (1625,1190) and (1606,1280) .. (1606,1400) -- (C00036);
\draw[edg] (R00344) .. controls (1750,1275) and (1695,1300) .. (1672,1345) .. controls (1655,1400) and (1630,1550) .. (C00036);
\draw[edg] (R00344) .. controls (1940,1300) and (1990,1330) .. (C00009c);
\draw[edg] (R00930) .. controls (1300,1585) and (1120,1600) .. (1029,1645) .. controls (1010,1655) and (995,1675) .. (C00100);
\draw[edg] (C00100) .. controls (915,1600) and (880,1430) .. (952,1325) .. controls (975,1295) and (1050,1280) .. (R01859);
\draw[edg] (R01859) .. controls (1230,1300) and (1265,1335) .. (C00009b);
\draw[edg] (R01859) .. controls (1260,1275) and (1350,1305) .. (C00683);
\draw[edg] (C00024) .. controls (790,1260) and (850,1340) .. (848,1480) .. controls (846,1600) and (830,1680) .. (860,1770) .. controls (880,1820) and (930,1860) .. (R00352);
\draw[edg] (C00009d) .. controls (810,1800) and (860,1840) .. (R00352);
\draw[edg] (C00036) .. controls (1400,1800) and (1200,1850) .. (R00352);
\draw[edg] (C00011d) .. controls (3060,1510) and (2950,1530) .. (R00341);
\draw[edg] (R00943) .. controls (3100,1275) and (2800,1295) .. (2571,1328) .. controls (2550,1332) and (2530,1340) .. (C00101);
\draw[edg] (C00101) .. controls (2600,1260) and (2760,1150) .. (2760,1000) -- (2760,560) .. controls (2760,400) and (2950,270) .. (R00945);
\draw[edg] (R00945) -- (3164,2400) .. controls (3164,2550) and (3130,2650) .. (C00037);
\draw[edg] (R00945) .. controls (3340,220) and (3540,240) .. (C00001b);
\draw[edg] (C00143) .. controls (3510,510) and (3660,540) .. (R01220);
\draw[edg] (R01220) .. controls (4010,590) and (4170,600) .. (C00080b);
\draw[edg] (C00001c) .. controls (3245,880) and (3280,950) .. (3450,955) .. controls (3550,955) and (3650,960) .. (R01655);
\draw[edg] (R01655) .. controls (3900,990) and (4080,1010) .. (C00080c);
\draw[edg] (C00009e) .. controls (3350,1200) and (3450,1235) .. (R00943);
\draw[edg] (ADPe) .. controls (3760,1195) and (3680,1220) .. (R00943);
\draw[edg] (R00519) .. controls (3400,1605) and (3330,1640) .. (C00011c);
\draw[edg] (R00519) .. controls (3620,1610) and (3690,1650) .. (C00080d);
\draw[edg] (R00479) .. controls (2550,2435) and (2760,2450) .. (C00048);
\end{tikzpicture}
\end{document}
